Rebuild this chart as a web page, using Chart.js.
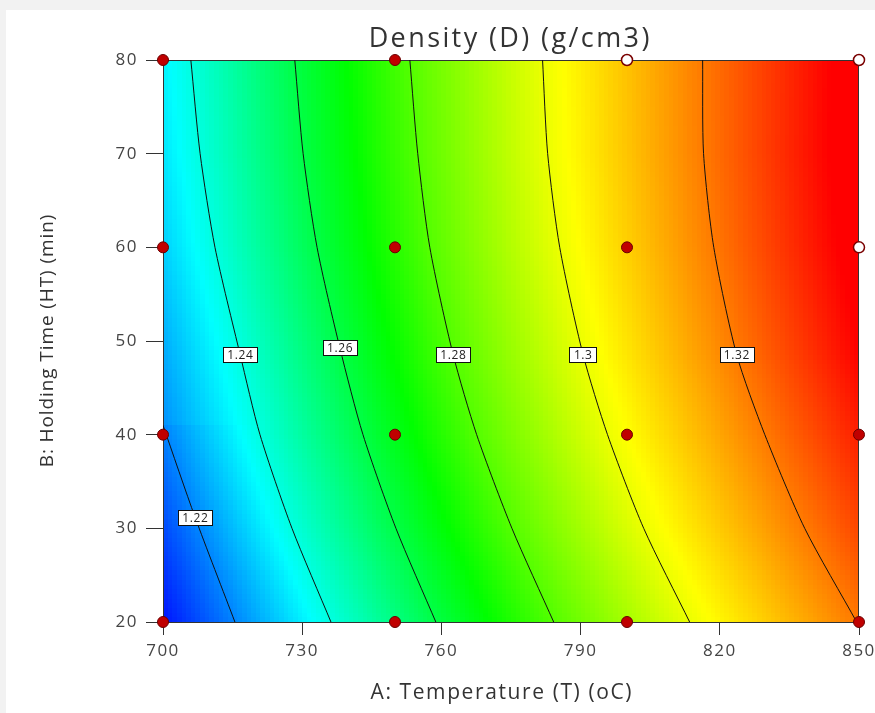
<!DOCTYPE html>
<html>
<head>
<meta charset="utf-8">
<script src="https://cdn.jsdelivr.net/npm/chart.js@4.4.1/dist/chart.umd.min.js"></script>
<style>
  html, body { margin: 0; padding: 0; background: #f2f2f2; }
  #wrap { position: absolute; left: 6px; top: 10px; width: 869px; height: 703px; background: #fff; }
</style>
</head>
<body>
<div id="wrap"><canvas id="myChart" width="869" height="703"></canvas></div>
<script>
// contour levels and their labels
const levels = [1.22, 1.24, 1.26, 1.28, 1.3, 1.32];
const levelText = ['1.22', '1.24', '1.26', '1.28', '1.3', '1.32'];

// contour lines, [temperature, holding time]
const c122 = [[700.0, 41], [706.9, 31.2], [715.5, 20]];
const c124 = [[706.0, 80], [708.0, 70], [711.2, 60], [716.6, 48.6], [720.9, 40], [727.8, 30], [736.2, 20]];
const c126 = [[728.4, 80], [730.2, 70], [733.2, 60], [738.1, 49.3], [743.1, 40], [750.2, 30], [758.8, 20]];
const c128 = [[753.2, 80], [754.9, 70], [757.5, 60], [762.5, 48.6], [767.6, 40], [775.2, 30], [784.2, 20]];
const c130 = [[781.8, 80], [782.9, 70], [785.5, 60], [790.5, 48.6], [795.8, 40], [803.6, 30], [813.5, 20]];
const c132 = [[816.3, 80], [816.5, 70], [818.7, 60], [823.6, 48.6], [829.7, 40], [838.3, 30], [849.5, 20]];
const contours = [c122, c124, c126, c128, c130, c132];

// where the level labels sit
const labelTemp = [706.9, 716.6, 738.1, 762.5, 790.5, 823.6];
const labelTime = [31.2, 48.6, 49.3, 48.6, 48.6, 48.6];

// design points
const redTemp = [700, 750, 700, 750, 800, 700, 750, 800, 850, 700, 750, 800, 850];
const redTime = [80, 80, 60, 60, 60, 40, 40, 40, 40, 20, 20, 20, 20];
const whiteTemp = [800, 850, 850];
const whiteTime = [80, 80, 60];

// colour map: density -> colour
const mapValues = [1.2025, 1.236, 1.269, 1.3025, 1.336];
const mapColours = [[0, 0, 255], [0, 255, 255], [0, 255, 0], [255, 255, 0], [255, 0, 0]];

const xTicks = [700, 730, 760, 790, 820, 850];
const yTicks = [20, 30, 40, 50, 60, 70, 80];

const titleText = 'Density (D) (g/cm3)';
const xTitle = 'A: Temperature (T) (oC)';
const yTitle = 'B: Holding Time (HT) (min)';

const FONT = "'Open Sans', 'Noto Sans', sans-serif";

function colourAt(v) {
    if (v <= mapValues[0]) return mapColours[0];
    for (let i = 0; i < mapValues.length - 1; i++) {
        if (v <= mapValues[i + 1]) {
            const t = (v - mapValues[i]) / (mapValues[i + 1] - mapValues[i]);
            const a = mapColours[i], b = mapColours[i + 1];
            return [a[0] + (b[0] - a[0]) * t, a[1] + (b[1] - a[1]) * t, a[2] + (b[2] - a[2]) * t];
        }
    }
    return mapColours[mapColours.length - 1];
}

// x pixel where a contour crosses a given y pixel (null if not)
function crossing(pts, py) {
    for (let i = 0; i < pts.length - 1; i++) {
        const a = pts[i], b = pts[i + 1];
        if (py >= a.py && py <= b.py) {
            const t = (py - a.py) / (b.py - a.py || 1);
            return a.px + (b.px - a.px) * t;
        }
    }
    return null;
}

function valueAt(px, cr) {
    const n = cr.length;
    let i = 0;
    if (px >= cr[n - 1].px) i = n - 2;
    else {
        while (i < n - 2 && px > cr[i + 1].px) i++;
    }
    const a = cr[i], b = cr[i + 1];
    return a.lv + (px - a.px) * (b.lv - a.lv) / (b.px - a.px);
}

function spacedText(ctx, text, x, y, spacing) {
    ctx.letterSpacing = spacing + 'px';
    ctx.fillText(text, x + spacing / 2, y);
}

const backgroundPlugin = {
    id: 'contourBackground',
    beforeDraw(chart) {
        chart.ctx.letterSpacing = '1.5px';
    },
    beforeDatasetsDraw(chart) {
        const {ctx, chartArea: area, scales: {x, y}} = chart;
        const w = Math.round(area.right - area.left);
        const h = Math.round(area.bottom - area.top);
        const lines = contours.map((c, i) => ({
            lv: levels[i],
            pts: c.map(p => ({px: x.getPixelForValue(p[0]), py: y.getPixelForValue(p[1])}))
        }));
        const off = document.createElement('canvas');
        off.width = w;
        off.height = h;
        const octx = off.getContext('2d');
        const img = octx.createImageData(w, h);
        for (let r = 0; r < h; r++) {
            const dy = y.getValueForPixel(area.top + r + 0.5);
            const qy = Math.floor(dy * 2) / 2 + 0.25;
            const pyq = y.getPixelForValue(qy);
            const cr = [];
            lines.forEach(l => {
                const px = crossing(l.pts, pyq);
                if (px !== null) cr.push({px: px, lv: l.lv});
            });
            for (let c = 0; c < w; c++) {
                const dx = x.getValueForPixel(area.left + c + 0.5);
                const qx = Math.floor(dx) + 0.5;
                const col = colourAt(valueAt(x.getPixelForValue(qx), cr));
                const k = (r * w + c) * 4;
                img.data[k] = col[0];
                img.data[k + 1] = col[1];
                img.data[k + 2] = col[2];
                img.data[k + 3] = 255;
            }
        }
        octx.putImageData(img, 0, 0);
        ctx.save();
        ctx.drawImage(off, area.left, area.top);
        ctx.strokeStyle = '#333';
        ctx.lineWidth = 1;
        ctx.strokeRect(area.left + 0.5, area.top + 0.5, w - 1, h);
        ctx.restore();
    },
    afterDatasetsDraw(chart) {
        const {ctx, scales: {x, y}} = chart;
        ctx.save();
        ctx.font = '12px ' + FONT;
        ctx.textAlign = 'center';
        ctx.textBaseline = 'middle';
        ctx.letterSpacing = '0.6px';
        levelText.forEach((t, i) => {
            const px = x.getPixelForValue(labelTemp[i]);
            const py = y.getPixelForValue(labelTime[i]);
            const tw = Math.round(ctx.measureText(t).width + 8);
            const bx = Math.round(px - tw / 2) + 0.5;
            const by = Math.round(py - 7.5) + 0.5;
            ctx.fillStyle = '#fff';
            ctx.fillRect(bx, by, tw, 15);
            ctx.strokeStyle = '#111';
            ctx.lineWidth = 1;
            ctx.strokeRect(bx, by, tw, 15);
            ctx.fillStyle = '#222';
            ctx.fillText(t, px + 0.3, py + 1);
        });
        ctx.restore();
    },
    afterDraw(chart) {
        const {ctx, chartArea: area} = chart;
        ctx.save();
        ctx.fillStyle = '#333';
        ctx.textAlign = 'center';
        ctx.textBaseline = 'middle';
        ctx.font = '27px ' + FONT;
        spacedText(ctx, titleText, (area.left + area.right) / 2 - 2, 29, 2.4);
        ctx.font = '21px ' + FONT;
        spacedText(ctx, xTitle, (area.left + area.right) / 2 - 10, 683, 1.6);
        ctx.translate(42, (area.top + area.bottom) / 2);
        ctx.rotate(-Math.PI / 2);
        ctx.font = '19px ' + FONT;
        spacedText(ctx, yTitle, 0, 0, 0.9);
        ctx.restore();
        ctx.letterSpacing = '0px';
    }
};

const ctx = document.getElementById('myChart');

const lineSets = contours.map(c => ({
    type: 'line',
    data: c.map(p => ({x: p[0], y: p[1]})),
    showLine: true,
    borderColor: '#111',
    borderWidth: 1,
    pointRadius: 0,
    tension: 0.25,
    fill: false
}));

new Chart(ctx, {
    type: 'scatter',
    data: {
        datasets: [
            {
                data: whiteTemp.map((t, i) => ({x: t, y: whiteTime[i]})),
                pointRadius: 5.5,
                pointBackgroundColor: '#ffffff',
                pointBorderColor: '#7a0000',
                pointBorderWidth: 1.5,
                clip: false
            },
            {
                data: redTemp.map((t, i) => ({x: t, y: redTime[i]})),
                pointRadius: 5.5,
                pointBackgroundColor: '#c00000',
                pointBorderColor: '#6a0000',
                pointBorderWidth: 1,
                clip: false
            },
            ...lineSets
        ]
    },
    options: {
        responsive: false,
        animation: false,
        devicePixelRatio: 1,
        layout: { padding: { top: 50, left: 0, right: 0, bottom: 0 } },
        plugins: {
            legend: { display: false },
            tooltip: { enabled: false },
            title: { display: false }
        },
        scales: {
            x: {
                type: 'linear',
                min: 700,
                max: 850,
                afterBuildTicks: s => { s.ticks = xTicks.map(v => ({value: v})); },
                afterFit: s => { s.height = 91; s.paddingRight = 16; s.paddingLeft = 0; },
                grid: { drawOnChartArea: false, drawTicks: true, tickLength: 13, color: '#333' },
                border: { display: false },
                ticks: { color: '#444', padding: 6, font: { family: FONT, size: 17 } }
            },
            y: {
                type: 'linear',
                min: 20,
                max: 80,
                afterBuildTicks: s => { s.ticks = yTicks.map(v => ({value: v})); },
                afterFit: s => { s.width = 157; s.paddingTop = 0; },
                grid: { drawOnChartArea: false, drawTicks: true, tickLength: 17, color: '#333' },
                border: { display: false },
                ticks: { color: '#444', padding: 8, font: { family: FONT, size: 17 } }
            }
        }
    },
    plugins: [backgroundPlugin]
});
</script>
</body>
</html>
